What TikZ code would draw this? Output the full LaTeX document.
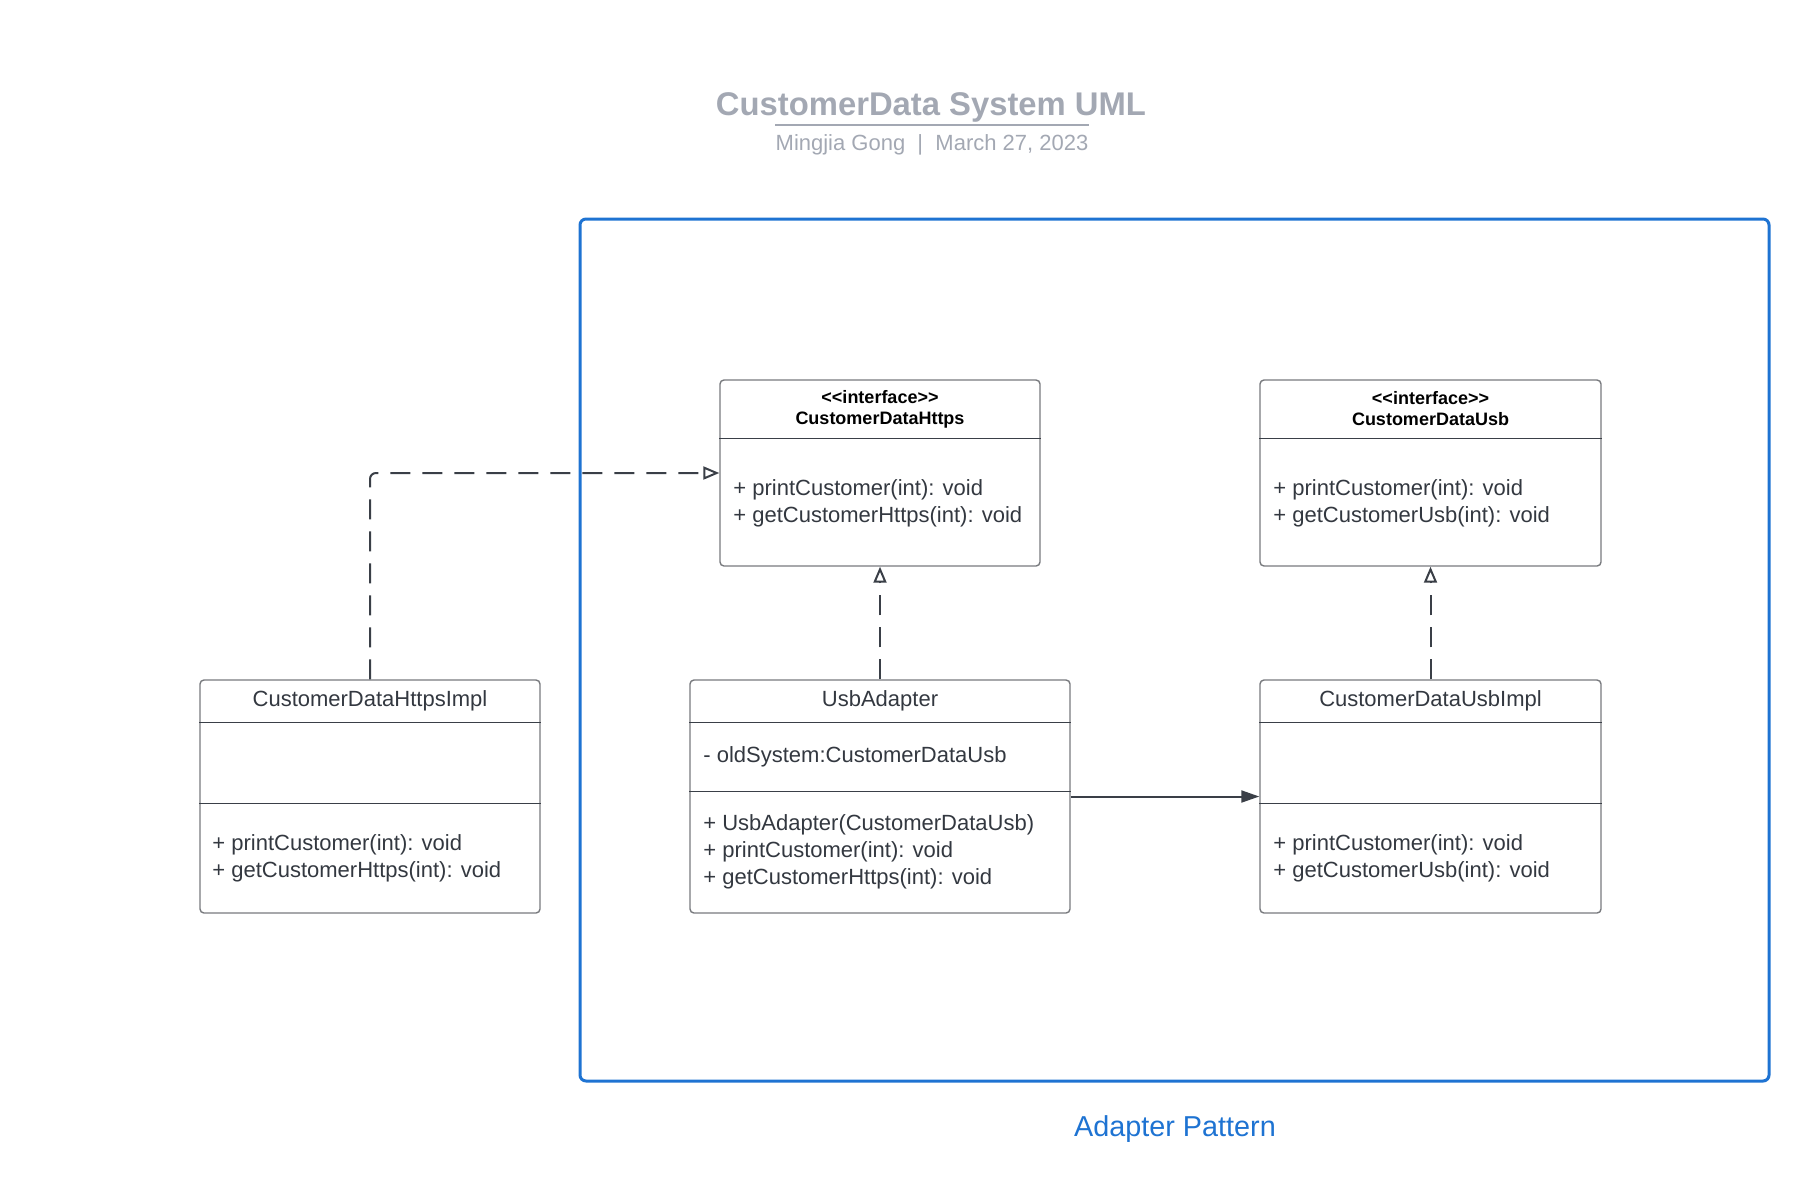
\documentclass[tikz,border=0pt]{standalone}
\usepackage{fontspec}
\setmainfont{Liberation Sans}
\usetikzlibrary{positioning, shapes, calc, arrows.meta}
\definecolor{titlegray}{RGB}{163,168,179}
\definecolor{linedark}{RGB}{58,63,71}
\definecolor{boxgray}{RGB}{120,122,126}
\definecolor{textdark}{RGB}{51,56,64}
\definecolor{frameblue}{RGB}{30,115,210}

\begin{document}
\begin{tikzpicture}[
x=0.5pt, y=-0.5pt,
classbox/.style={rectangle, draw=boxgray, rounded corners=2pt, line width=0.7pt, inner sep=0pt},
divider/.style={draw=linedark, line width=0.6pt},
headtext/.style={align=center, inner sep=0pt, font=\fontsize{9}{10.5}\selectfont\bfseries, text=black},
nametext/.style={inner sep=0pt, font=\fontsize{11}{13.5}\selectfont, text=textdark},
membertext/.style={align=left, anchor=west, inner sep=0pt, font=\fontsize{11}{13.5}\selectfont, text=textdark},
realize/.style={-{Triangle[open, length=8pt, width=6.5pt]}, dash pattern=on 10pt off 6pt, line width=1pt, draw=linedark, rounded corners=3pt},
assoc/.style={-{Triangle[length=9pt, width=6pt]}, line width=1pt, draw=linedark},
]
\useasboundingbox (0,0) rectangle (1808,1200);
%title
\node[inner sep=0pt, font=\fontsize{16.4}{20}\selectfont\bfseries, text=titlegray] (title) at (931,107) {CustomerData System UML};
\node[inner sep=0pt, font=\fontsize{11}{13}\selectfont, text=titlegray] (byline) at (932,145) {Mingjia Gong \ | \ March 27, 2023};
\draw[titlegray, line width=1pt] (byline.west |- 0,125) -- (byline.east |- 0,125);
%pattern frame
\node[draw=frameblue, line width=1.5pt, rounded corners=3pt, minimum width=594.5pt, minimum height=431pt, inner sep=0pt] (adapterframe) at (1174.5,650) {};
\node[inner sep=0pt, font=\fontsize{14.4}{17}\selectfont, text=frameblue] (framelabel) at (1175,1129) {Adapter Pattern};
%class boxes
\node[classbox, minimum width=160pt, minimum height=93pt] (https) at (880,473) {};
\node[classbox, minimum width=170.5pt, minimum height=93pt] (usb) at (1430.5,473) {};
\node[classbox, minimum width=170pt, minimum height=116.5pt] (httpsimpl) at (370,796.5) {};
\node[classbox, minimum width=190pt, minimum height=116.5pt] (adapter) at (880,796.5) {};
\node[classbox, minimum width=170.5pt, minimum height=116.5pt] (usbimpl) at (1430.5,796.5) {};
%dividers
\draw[divider] ([yshift=-29.5pt]https.north west) -- ([yshift=-29.5pt]https.north east);
\draw[divider] ([yshift=-29.5pt]usb.north west) -- ([yshift=-29.5pt]usb.north east);
\draw[divider] ([yshift=-21.5pt]httpsimpl.north west) -- ([yshift=-21.5pt]httpsimpl.north east);
\draw[divider] ([yshift=-62pt]httpsimpl.north west) -- ([yshift=-62pt]httpsimpl.north east);
\draw[divider] ([yshift=-21.5pt]adapter.north west) -- ([yshift=-21.5pt]adapter.north east);
\draw[divider] ([yshift=-56pt]adapter.north west) -- ([yshift=-56pt]adapter.north east);
\draw[divider] ([yshift=-21.5pt]usbimpl.north west) -- ([yshift=-21.5pt]usbimpl.north east);
\draw[divider] ([yshift=-62pt]usbimpl.north west) -- ([yshift=-62pt]usbimpl.north east);
%texts
\node[headtext] (httpshead) at (880,409) {\textless\kern0pt\textless interface\textgreater\kern0pt\textgreater\\CustomerDataHttps};
\node[membertext] (httpsops) at (733,503) {+ printCustomer(int): void\\+ getCustomerHttps(int): void};
\node[headtext] (usbhead) at (1430.5,409) {\textless\kern0pt\textless interface\textgreater\kern0pt\textgreater\\CustomerDataUsb};
\node[membertext] (usbops) at (1273,503) {+ printCustomer(int): void\\+ getCustomerUsb(int): void};
\node[nametext] (httpsimplname) at (370,701) {CustomerDataHttpsImpl};
\node[membertext] (httpsimplops) at (212,858.5) {+ printCustomer(int): void\\+ getCustomerHttps(int): void};
\node[nametext] (adaptername) at (880,701) {UsbAdapter};
\node[membertext] (adapterattr) at (703,757) {- oldSystem:CustomerDataUsb};
\node[membertext] (adapterops) at (703,851.5) {+ UsbAdapter(CustomerDataUsb)\\+ printCustomer(int): void\\+ getCustomerHttps(int): void};
\node[nametext] (usbimplname) at (1430.5,701) {CustomerDataUsbImpl};
\node[membertext] (usbimplops) at (1273,858.5) {+ printCustomer(int): void\\+ getCustomerUsb(int): void};
%connections
\draw[realize] (httpsimpl.north) |- (https.west);
\draw[realize] (adapter.north) -- (https.south);
\draw[realize] (usbimpl.north) -- (usb.south);
\draw[assoc] (adapter.east) -- (usbimpl.west);
\end{tikzpicture}
\end{document}
